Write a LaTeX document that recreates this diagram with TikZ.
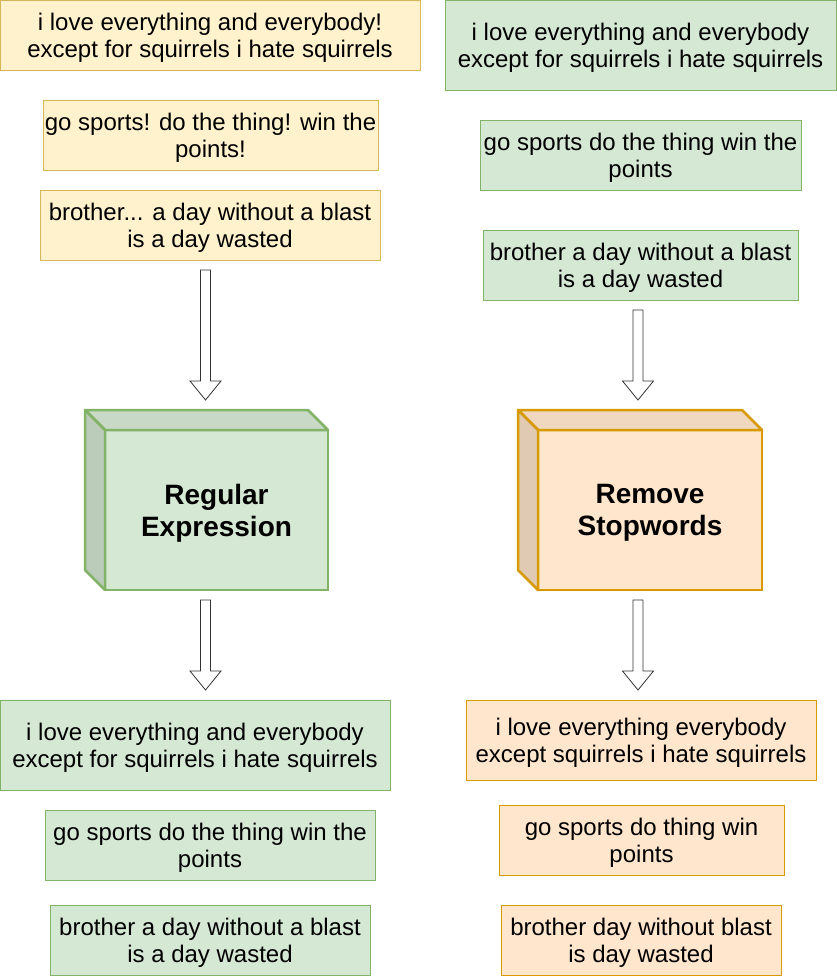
\documentclass[tikz,border=0pt]{standalone}
\usepackage{fontspec}
\setmainfont{Liberation Sans}
\usetikzlibrary{calc}

\definecolor{yfill}{HTML}{FFF2CC}
\definecolor{ydraw}{HTML}{D6B656}
\definecolor{gfill}{HTML}{D5E8D4}
\definecolor{gdraw}{HTML}{82B366}
\definecolor{ofill}{HTML}{FFE6CC}
\definecolor{odraw}{HTML}{D79B00}
\colorlet{gtop}{gfill!94!black}
\colorlet{gside}{gfill!88!black}
\colorlet{otop}{ofill!94!black}
\colorlet{oside}{ofill!88!black}

\tikzset{
    txt/.style={draw, line width=1pt, align=center, inner sep=0pt, outer sep=0pt,
        font=\fontsize{24}{27}\selectfont, text depth=-1pt},
    ybox/.style={txt, fill=yfill, draw=ydraw},
    gbox/.style={txt, fill=gfill, draw=gdraw},
    obox/.style={txt, fill=ofill, draw=odraw},
    cube/.style={draw, line width=2.5pt, align=center, inner sep=0pt, outer sep=0pt,
        minimum width=223, minimum height=160, font=\fontsize{28}{32}\selectfont\bfseries,
        text depth=-2pt},
    face/.style={line width=2.5pt, line join=round},
    fatarrow/.style={draw=black!80, fill=white, line width=0.8pt, line join=miter,
        to path={let \p1=(\tikztostart), \p2=(\tikztotarget) in
            (\x1-5pt,\y1) -- (\x1+5pt,\y1) -- (\x1+5pt,\y2+19pt) -- (\x1+15.5pt,\y2+19pt)
            -- (\x1,\y2) -- (\x1-15.5pt,\y2+19pt) -- (\x1-5pt,\y2+19pt) -- cycle}},
}

\begin{document}
\begin{tikzpicture}[x=1pt, y=-1pt]
    \useasboundingbox (0,0) rectangle (836,977);

    % left column
    \node[ybox, minimum width=420, minimum height=70] (L1) at (210,35)
        {i love everything and everybody!\\except for squirrels i hate squirrels};
    \node[ybox, minimum width=335, minimum height=70] (L2) at (210.5,135)
        {go sports! do the thing! win the\\points!};
    \node[ybox, minimum width=340, minimum height=70] (L3) at (210,225)
        {brother... a day without a blast\\is a day wasted};

    \node[cube, fill=gfill, draw=gdraw] (RegEx) at (216.5,510) {Regular\\Expression};
    \filldraw[face, fill=gtop, draw=gdraw] (RegEx.north west) -- ++(-20,-20)
        -- ($(RegEx.north east)+(-20,-20)$) -- (RegEx.north east) -- cycle;
    \filldraw[face, fill=gside, draw=gdraw] (RegEx.north west) -- ++(-20,-20)
        -- ($(RegEx.south west)+(-20,-20)$) -- (RegEx.south west) -- cycle;

    \node[gbox, minimum width=390, minimum height=90] (L4) at (195,745)
        {i love everything and everybody\\except for squirrels i hate squirrels};
    \node[gbox, minimum width=330, minimum height=70] (L5) at (210,845)
        {go sports do the thing win the\\points};
    \node[gbox, minimum width=320, minimum height=70] (L6) at (210,940)
        {brother a day without a blast\\is a day wasted};

    % right column
    \node[gbox, minimum width=391, minimum height=90] (R1) at (640.5,45)
        {i love everything and everybody\\except for squirrels i hate squirrels};
    \node[gbox, minimum width=321, minimum height=70] (R2) at (640.5,155)
        {go sports do the thing win the\\points};
    \node[gbox, minimum width=315, minimum height=70] (R3) at (640.5,265)
        {brother a day without a blast\\is a day wasted};

    \node[cube, fill=ofill, draw=odraw, minimum width=224] (StopW) at (650,510) {Remove\\Stopwords};
    \filldraw[face, fill=otop, draw=odraw] (StopW.north west) -- ++(-20,-20)
        -- ($(StopW.north east)+(-20,-20)$) -- (StopW.north east) -- cycle;
    \filldraw[face, fill=oside, draw=odraw] (StopW.north west) -- ++(-20,-20)
        -- ($(StopW.south west)+(-20,-20)$) -- (StopW.south west) -- cycle;

    \node[obox, minimum width=350, minimum height=80] (R4) at (641,740)
        {i love everything everybody\\except squirrels i hate squirrels};
    \node[obox, minimum width=285, minimum height=70] (R5) at (641.5,840)
        {go sports do thing win\\points};
    \node[obox, minimum width=280, minimum height=70] (R6) at (641,940)
        {brother day without blast\\is day wasted};

    % arrows
    \coordinate (LA1s) at (205.5,270);
    \coordinate (LA1e) at (205.5,400);
    \coordinate (LA2s) at (205.5,600);
    \coordinate (LA2e) at (205.5,690);
    \coordinate (RA1s) at (638,310);
    \coordinate (RA1e) at (638,400);
    \coordinate (RA2s) at (638,600);
    \coordinate (RA2e) at (638,690);
    \draw[fatarrow] (LA1s) to (LA1e);
    \draw[fatarrow] (LA2s) to (LA2e);
    \draw[fatarrow] (RA1s) to (RA1e);
    \draw[fatarrow] (RA2s) to (RA2e);
\end{tikzpicture}
\end{document}
